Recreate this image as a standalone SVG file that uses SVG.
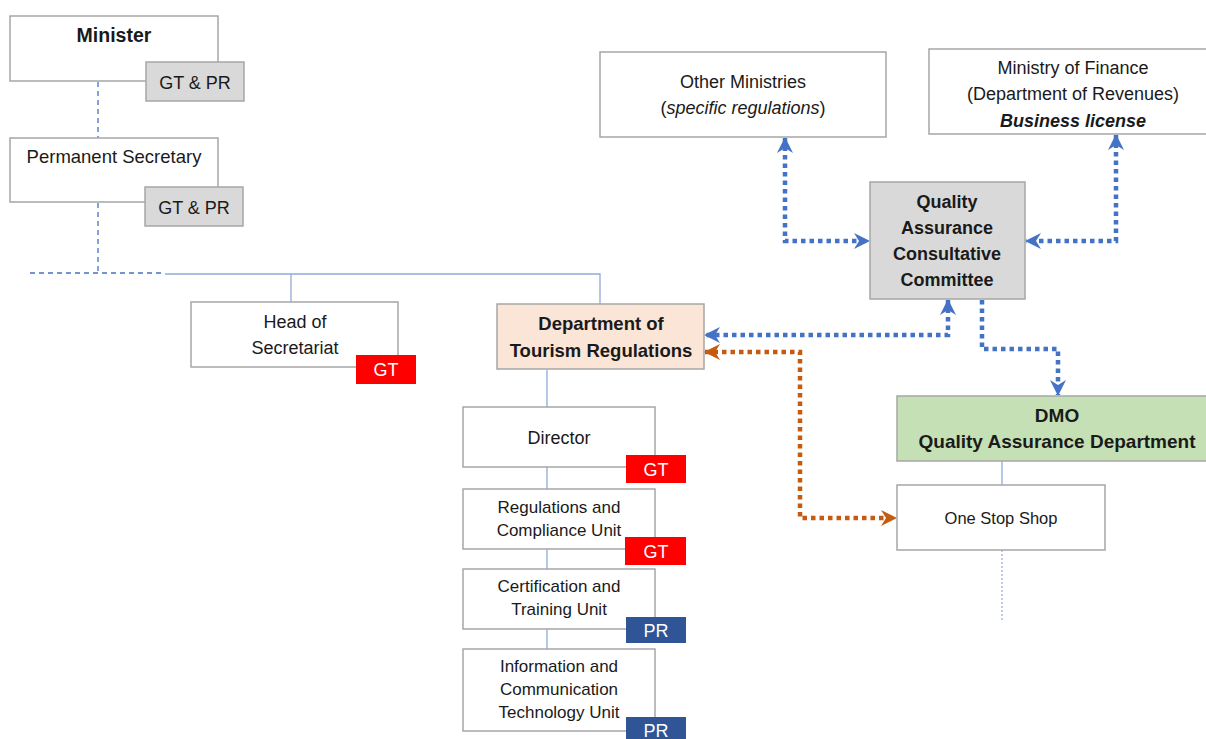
<svg xmlns="http://www.w3.org/2000/svg" width="1206" height="739" viewBox="0 0 1206 739">
<style>
.box{fill:#fff;stroke:#a6a6a6;stroke-width:1.5}
.grey{fill:#d9d9d9;stroke:#a6a6a6;stroke-width:1.5}
.t{font-family:"Liberation Sans",Arial,sans-serif;font-size:18px;fill:#1a1a1a;text-anchor:middle}
.s{font-size:17px}
.b{font-weight:bold}
.w{fill:#fff}
.red{fill:#ff0000}
.navy{fill:#2f5597}
.org{fill:none;stroke:#8faadc;stroke-width:1.3}
.orgd{fill:none;stroke:#4472c4;stroke-width:1.3;stroke-dasharray:5 4}
.bl{fill:none;stroke:#4472c4;stroke-width:4.5;stroke-dasharray:4.5 4}
.or{fill:none;stroke:#c55a11;stroke-width:4.5;stroke-dasharray:4.5 4}
</style>
<defs>
<marker id="ab" viewBox="0 0 16 16" refX="15" refY="8" markerWidth="16" markerHeight="16" markerUnits="userSpaceOnUse" orient="auto-start-reverse">
<path d="M0,0 L16,8 L0,16 L5,8 z" fill="#4472c4"/>
</marker>
<marker id="ao" viewBox="0 0 16 16" refX="15" refY="8" markerWidth="16" markerHeight="16" markerUnits="userSpaceOnUse" orient="auto-start-reverse">
<path d="M0,0 L16,8 L0,16 L5,8 z" fill="#c55a11"/>
</marker>
</defs>

<g id="connectors">
<path class="orgd" d="M98,82 V138"/>
<path class="orgd" d="M98,203 V273"/>
<path class="orgd" d="M30,273 H165"/>
<path class="org" d="M165,274 H600 V304"/>
<path class="org" d="M291,274 V302"/>
<path class="org" d="M547,370 V407 M547,467 V489 M547,549 V569 M547,629 V649"/>
<path class="org" d="M1002,461 V485"/>
<path fill="none" stroke="#8faadc" stroke-width="1.2" stroke-dasharray="2 2" d="M1002,550 V620"/>
<path class="bl" d="M785,138 V241 H869" marker-start="url(#ab)" marker-end="url(#ab)"/>
<path class="bl" d="M1116,135 V241 H1026" marker-start="url(#ab)" marker-end="url(#ab)"/>
<path class="bl" d="M948,300 V335 H705" marker-start="url(#ab)" marker-end="url(#ab)"/>
<path class="bl" d="M982,300 V349 H1058 V395" marker-end="url(#ab)"/>
<path class="or" d="M705,352 H800 V518 H896" marker-start="url(#ao)" marker-end="url(#ao)"/>
</g>

<g id="minister">
<rect class="box" x="10" y="16" width="208" height="65"/>
<text class="t b" x="114" y="42" style="font-size:19.5px">Minister</text>
<rect class="grey" x="146" y="62" width="98" height="39"/>
<text class="t" x="195" y="89">GT &amp; PR</text>
</g>

<g id="permanent-secretary">
<rect class="box" x="10" y="138" width="208" height="64"/>
<text class="t" x="114" y="163" style="font-size:18.5px">Permanent Secretary</text>
<rect class="grey" x="145" y="187" width="98" height="39"/>
<text class="t" x="194" y="214">GT &amp; PR</text>
</g>

<g id="head-of-secretariat">
<rect class="box" x="191" y="302" width="207" height="65"/>
<text class="t" x="295" y="328">Head of</text>
<text class="t" x="295" y="354">Secretariat</text>
<rect class="red" x="356" y="355" width="60" height="29"/>
<text class="t w" x="386" y="376">GT</text>
</g>

<g id="dept-tourism">
<rect x="497" y="304" width="207" height="65" fill="#fbe5d6" stroke="#a6a6a6" stroke-width="1.5"/>
<text class="t b" x="601" y="330" style="font-size:18.5px">Department of</text>
<text class="t b" x="601" y="357" style="font-size:18.5px">Tourism Regulations</text>
</g>

<g id="director">
<rect class="box" x="463" y="407" width="192" height="60"/>
<text class="t" x="559" y="444">Director</text>
<rect class="red" x="626" y="455" width="60" height="28"/>
<text class="t w" x="656" y="476">GT</text>
</g>

<g id="regulations-unit">
<rect class="box" x="463" y="489" width="192" height="60"/>
<text class="t s" x="559" y="513">Regulations and</text>
<text class="t s" x="559" y="536">Compliance Unit</text>
<rect class="red" x="625" y="537" width="61" height="28"/>
<text class="t w" x="656" y="558">GT</text>
</g>

<g id="certification-unit">
<rect class="box" x="463" y="569" width="192" height="60"/>
<text class="t s" x="559" y="592">Certification and</text>
<text class="t s" x="559" y="615">Training Unit</text>
<rect class="navy" x="626" y="617" width="60" height="26"/>
<text class="t w" x="656" y="637">PR</text>
</g>

<g id="ict-unit">
<rect class="box" x="463" y="649" width="192" height="82"/>
<text class="t s" x="559" y="672">Information and</text>
<text class="t s" x="559" y="695">Communication</text>
<text class="t s" x="559" y="718">Technology Unit</text>
<rect class="navy" x="626" y="717" width="60" height="26"/>
<text class="t w" x="656" y="737">PR</text>
</g>

<g id="other-ministries">
<rect class="box" x="600" y="52" width="286" height="85"/>
<text class="t" x="743" y="88">Other Ministries</text>
<text class="t" x="743" y="114">(<tspan font-style="italic">specific regulations</tspan>)</text>
</g>

<g id="ministry-finance">
<rect class="box" x="929" y="49" width="280" height="85"/>
<text class="t" x="1073" y="74">Ministry of Finance</text>
<text class="t" x="1073" y="100">(Department of Revenues)</text>
<text class="t b" x="1073" y="127" font-style="italic">Business license</text>
</g>

<g id="qacc">
<rect class="grey" x="870" y="182" width="155" height="117"/>
<text class="t b" x="947" y="208">Quality</text>
<text class="t b" x="947" y="234">Assurance</text>
<text class="t b" x="947" y="260">Consultative</text>
<text class="t b" x="947" y="286">Committee</text>
</g>

<g id="dmo">
<rect x="897" y="396" width="312" height="65" fill="#c5e0b4" stroke="#a6a6a6" stroke-width="1.5"/>
<text class="t b" x="1057" y="422" style="font-size:19px">DMO</text>
<text class="t b" x="1057" y="448" style="font-size:19px">Quality Assurance Department</text>
</g>

<g id="one-stop-shop">
<rect class="box" x="897" y="485" width="208" height="65"/>
<text class="t" x="1001" y="524" style="font-size:16.5px">One Stop Shop</text>
</g>
</svg>
